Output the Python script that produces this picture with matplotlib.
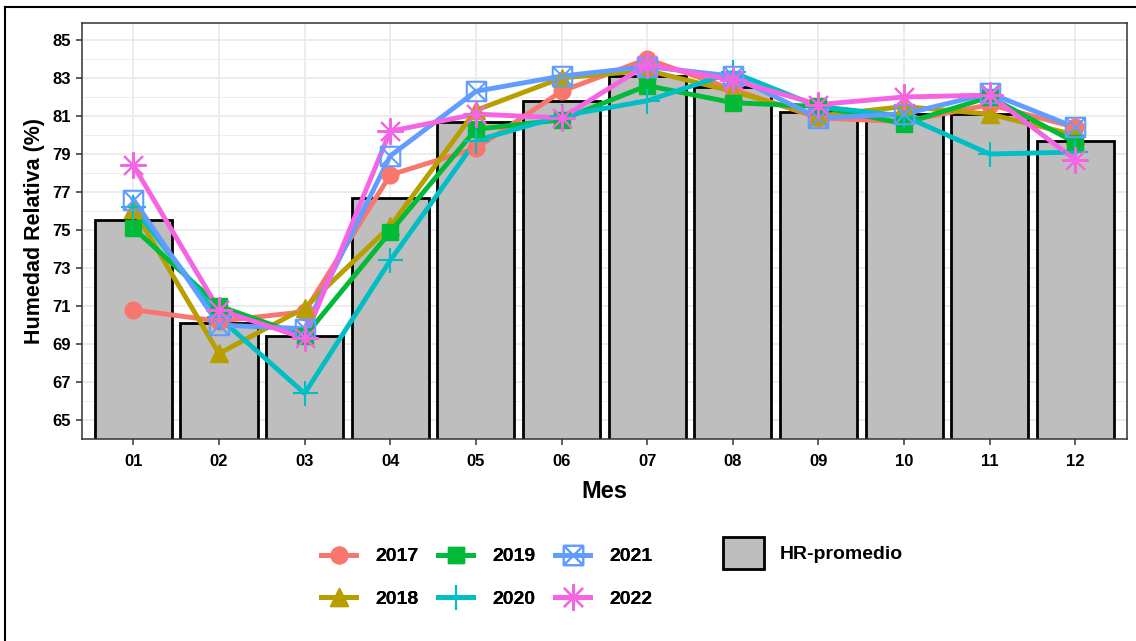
import numpy as np
import matplotlib.pyplot as plt
from matplotlib.path import Path
from matplotlib.patches import Patch
from matplotlib.lines import Line2D

plt.rcParams['font.family'] = ['Liberation Sans', 'DejaVu Sans']

meses = ["01", "02", "03", "04", "05", "06", "07", "08", "09", "10", "11", "12"]

# promedio mensual (barras)
hr_promedio = [75.5, 70.1, 69.4, 76.7, 80.7, 81.8, 83.1, 82.5, 81.2, 81.1, 81.1, 79.7]

# series anuales
hr_2017 = [70.8, 70.2, 70.7, 77.9, 79.3, 82.3, 84.0, 82.4, 80.9, 80.7, 81.6, 80.4]
hr_2018 = [76.1, 68.5, 70.9, 75.2, 81.3, 83.0, 83.4, 82.3, 81.0, 81.5, 81.1, 80.0]
hr_2019 = [75.1, 71.0, 69.4, 74.9, 80.3, 80.8, 82.6, 81.7, 81.5, 80.6, 82.0, 79.6]
hr_2020 = [76.2, 70.4, 66.4, 73.4, 79.7, 81.0, 81.8, 83.3, 81.5, 81.0, 79.0, 79.1]
hr_2021 = [76.6, 70.0, 69.8, 78.9, 82.3, 83.1, 83.6, 83.1, 80.9, 81.1, 82.2, 80.4]
hr_2022 = [78.4, 70.8, 69.3, 80.2, 81.1, 80.9, 83.7, 82.9, 81.6, 82.0, 82.1, 78.7]

anios = ["2017", "2018", "2019", "2020", "2021", "2022"]
series = [hr_2017, hr_2018, hr_2019, hr_2020, hr_2021, hr_2022]
colores = ["#F8766D", "#B79F00", "#00BA38", "#00BFC4", "#619CFF", "#F564E3"]

# square with an X inside (R shape 7)
box_x = Path([(-1, -1), (1, -1), (1, 1), (-1, 1), (-1, -1), (-1, -1), (1, 1), (-1, 1), (1, -1)],
             [Path.MOVETO, Path.LINETO, Path.LINETO, Path.LINETO, Path.CLOSEPOLY,
              Path.MOVETO, Path.LINETO, Path.MOVETO, Path.LINETO])

estilos = [
    dict(marker="o", ms=12),
    dict(marker="^", ms=13),
    dict(marker="s", ms=11.5),
    dict(marker="+", ms=18, mew=1.5),
    dict(marker=box_x, ms=14, mfc="none", mew=1.5),
    dict(marker=(8, 2, 0), ms=19, mew=1.5),
]

fig = plt.figure(figsize=(11.36, 6.41), dpi=100)
ax = fig.add_axes([82 / 1136, 1 - 439 / 641, (1126.7 - 82) / 1136, (439 - 22.7) / 641])

x = np.arange(1, len(meses) + 1)
ax.bar(x, hr_promedio, width=0.9, bottom=0, color="#BEBEBE", edgecolor="black",
       linewidth=2, zorder=2)

handles = []
for anio, vals, col, st in zip(anios, series, colores, estilos):
    ax.plot(x, vals, color=col, lw=3.5, zorder=3)
    kw = dict(marker=st["marker"], ms=st["ms"], color=col, ls="none", zorder=4)
    if "mfc" in st:
        kw["mfc"] = st["mfc"]
    if "mew" in st:
        kw["mew"] = st["mew"]
    ax.plot(x, vals, **kw)
    h = Line2D([], [], color=col, lw=3.5, marker=st["marker"], ms=st["ms"],
               mfc=kw.get("mfc", col), mew=kw.get("mew", 1))
    handles.append(h)

ax.set_xlim(0.4, 12.6)
ax.set_ylim(64.04, 85.91)
ax.set_xticks(x)
ax.set_xticklabels(meses)
ax.set_yticks(np.arange(65, 86, 2))
ax.set_yticks(np.arange(64, 86, 2), minor=True)
ax.tick_params(which="major", length=4, width=1.1, color="#333333", labelsize=12, pad=4)
ax.tick_params(axis="x", which="major", pad=7)
ax.tick_params(which="minor", length=0)
for lab in ax.get_xticklabels() + ax.get_yticklabels():
    lab.set_fontweight("bold")
ax.grid(which="major", color="#EBEBEB", lw=1.3, zorder=0)
ax.grid(which="minor", axis="y", color="#EBEBEB", lw=0.6, zorder=0)
ax.set_axisbelow(True)
for s in ax.spines.values():
    s.set_color("#333333")
    s.set_linewidth(1.1)

ax.set_xlabel("Mes", fontsize=17, fontweight="bold", labelpad=8)
ax.set_ylabel("Humedad Relativa (%)", fontsize=15.5, fontweight="bold", labelpad=5)

leg1 = fig.legend(handles, anios, ncol=3, loc="center", bbox_to_anchor=(487 / 1136, 1 - 578 / 641),
                  frameon=False, prop=dict(weight="bold", size=14), handlelength=1.8,
                  columnspacing=1.0, labelspacing=1.3, handletextpad=1.0)
fig.add_artist(leg1)
parche = Patch(facecolor="#BEBEBE", edgecolor="black", linewidth=2)
fig.legend([parche], ["HR-promedio"], loc="center", bbox_to_anchor=(813 / 1136, 1 - 553 / 641),
           frameon=False, prop=dict(weight="bold", size=14), handlelength=2.1, handleheight=2.15,
           handletextpad=0.8)

# outer frame
fig.add_artist(Line2D([5 / 1136, 5 / 1136], [0, 1 - 7 / 641], color="black", lw=1.5,
                      transform=fig.transFigure))
fig.add_artist(Line2D([5 / 1136, 1], [1 - 7 / 641, 1 - 7 / 641], color="black", lw=1.5,
                      transform=fig.transFigure))

fig.savefig("out.png", dpi=100)
